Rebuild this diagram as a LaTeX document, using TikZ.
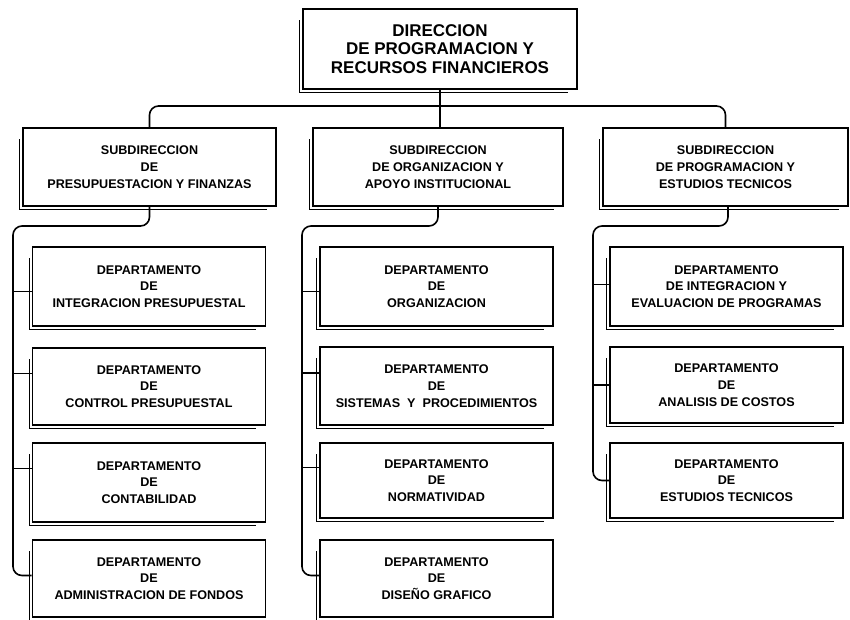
\documentclass[tikz,border=0pt]{standalone}
\usepackage{fontspec}
\setmainfont{Liberation Sans}
\begin{document}
\begin{tikzpicture}[x=1pt,y=-1pt,
  box/.style={draw,line width=1.9pt,align=center,inner sep=0pt,
    font=\bfseries\fontsize{12.6}{16.8}\selectfont},
  topbox/.style={box,font=\bfseries\fontsize{17}{18.5}\selectfont},
  subbox/.style={box,minimum height=78pt},
  dept/.style={box,minimum width=233pt},
  link/.style={line width=1.6pt,rounded corners=9pt},
  dbl/.style={line width=1pt}]
\useasboundingbox (0,0) rectangle (850,619);

\node[topbox,minimum width=274pt,minimum height=80pt] (top) at (440,49)
  {DIRECCION\\DE PROGRAMACION Y\\RECURSOS FINANCIEROS};

\node[subbox,minimum width=253pt] (s1) at (149.5,167)
  {SUBDIRECCION\\DE\\PRESUPUESTACION Y FINANZAS};
\node[subbox,minimum width=250pt] (s2) at (438,167)
  {SUBDIRECCION\\DE ORGANIZACION Y\\APOYO INSTITUCIONAL};
\node[subbox,minimum width=245pt] (s3) at (725.5,167)
  {SUBDIRECCION\\DE PROGRAMACION Y\\ESTUDIOS TECNICOS};

\node[dept,minimum height=79pt] (a1) at (149,286.5) {DEPARTAMENTO\\DE\\INTEGRACION PRESUPUESTAL};
\node[dept,minimum height=77pt] (a2) at (149,386.5) {DEPARTAMENTO\\DE\\CONTROL PRESUPUESTAL};
\node[dept,minimum height=79pt] (a3) at (149,482.5) {DEPARTAMENTO\\DE\\CONTABILIDAD};
\node[dept,minimum height=77pt] (a4) at (149,578.5) {DEPARTAMENTO\\DE\\ADMINISTRACION DE FONDOS};

\node[dept,minimum height=79pt] (b1) at (436.5,286.5) {DEPARTAMENTO\\DE\\ORGANIZACION};
\node[dept,minimum height=78pt] (b2) at (436.5,386) {DEPARTAMENTO\\DE\\SISTEMAS \ Y \ PROCEDIMIENTOS};
\node[dept,minimum height=75pt] (b3) at (436.5,480.5) {DEPARTAMENTO\\DE\\NORMATIVIDAD};
\node[dept,minimum height=77pt] (b4) at (436.5,578.5) {DEPARTAMENTO\\DE\\DISEÑO GRAFICO};

\node[dept,minimum height=79pt] (c1) at (726.5,286.5) {DEPARTAMENTO\\DE INTEGRACION Y\\EVALUACION DE PROGRAMAS};
\node[dept,minimum height=76pt] (c2) at (726.5,385) {DEPARTAMENTO\\DE\\ANALISIS DE COSTOS};
\node[dept,minimum height=75pt] (c3) at (726.5,480.5) {DEPARTAMENTO\\DE\\ESTUDIOS TECNICOS};

% doubled left and bottom edges
\foreach \n in {top,s1,s2,s3,a1,a2,a3,a4,b1,b2,b3,b4,c1,c2,c3}
  \draw[dbl] ([xshift=-2.5pt,yshift=-12pt]\n.north west) -- ([xshift=-2.5pt,yshift=-2.5pt]\n.south west)
     -- ([xshift=-10pt,yshift=-2.5pt]\n.south east);

% top level connectors
\coordinate (bus) at (440,106);
\draw[link] (top.south) -- (top.south |- s2.north);
\draw[link] (s1.north) -- (s1.north |- bus) -- (s3.north |- bus) -- (s3.north);

% column spines
\coordinate (k1) at (13,226);
\coordinate (k2) at (302,226);
\coordinate (k3) at (593,226);

\draw[link] (s1.south) -- (s1.south |- k1) -- (k1) -- ([yshift=3pt]k1 |- a4.west) -- ([yshift=3pt]a4.west);
\draw[link] ([yshift=-5pt]k1 |- a1.west) -- ([yshift=-5pt]a1.west);
\draw[link] ([yshift=13pt]k1 |- a2.west) -- ([yshift=13pt]a2.west);
\draw[link] ([yshift=14pt]k1 |- a3.west) -- ([yshift=14pt]a3.west);

\draw[link] (s2.south) -- (s2.south |- k2) -- (k2) -- ([yshift=3pt]k2 |- b4.west) -- ([yshift=3pt]b4.west);
\draw[link] ([yshift=-5pt]k2 |- b1.west) -- ([yshift=-5pt]b1.west);
\draw[link] ([yshift=13pt]k2 |- b2.west) -- ([yshift=13pt]b2.west);
\draw[link] ([yshift=13pt]k2 |- b3.west) -- ([yshift=13pt]b3.west);

\draw[link] ([xshift=2.5pt]s3.south) -- ([xshift=2.5pt]s3.south |- k3) -- (k3) -- (k3 |- c3.west) -- (c3.west);
\draw[link] ([yshift=2pt]k3 |- c1.west) -- ([yshift=2pt]c1.west);
\draw[link] (k3 |- c2.west) -- (c2.west);
\end{tikzpicture}
\end{document}
